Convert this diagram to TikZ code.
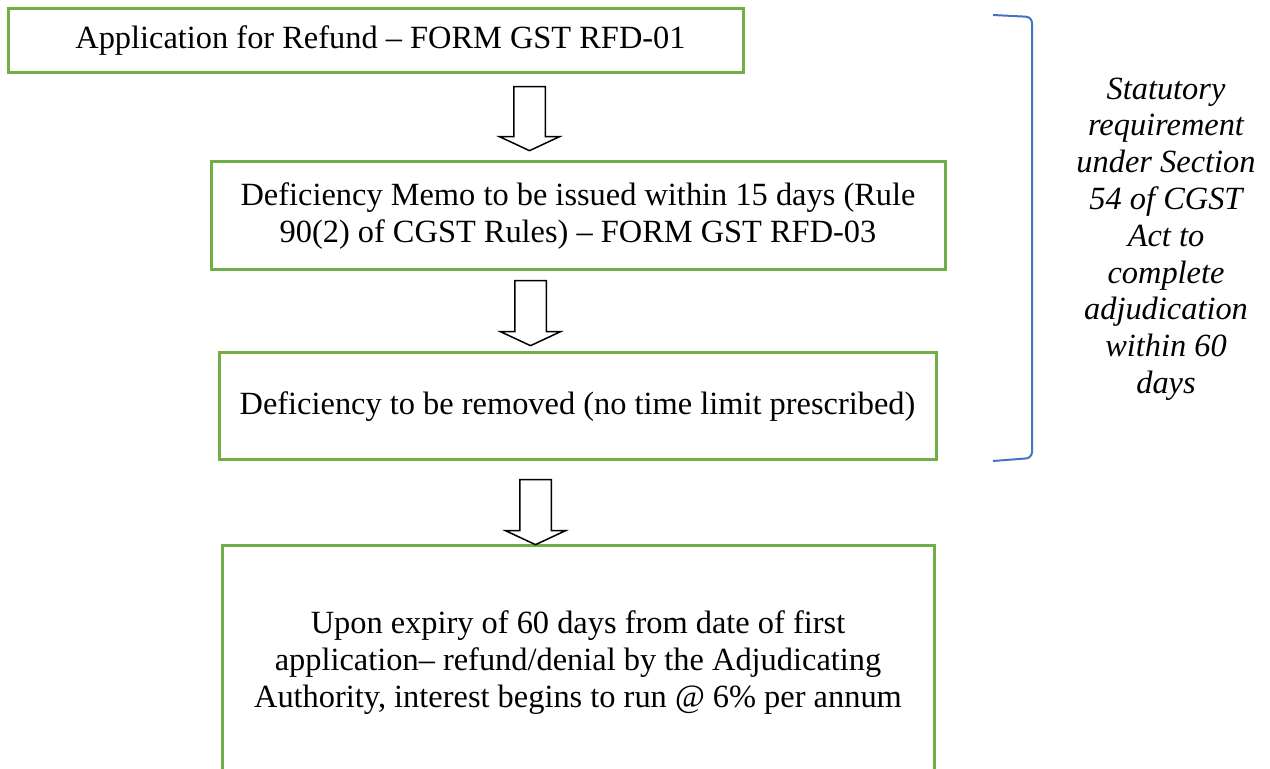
\documentclass[tikz,border=0pt]{standalone}
\usepackage{fontspec}
\setmainfont{Liberation Serif}
\usetikzlibrary{shapes.arrows}
\definecolor{boxgreen}{HTML}{70AD47}
\definecolor{braceblue}{HTML}{4472C4}
\begin{document}
\begin{tikzpicture}[x=0.5pt, y=-0.5pt]
  \useasboundingbox (0, 0) rectangle (1270, 769);
  \clip (0, 0) rectangle (1270, 769);  % unterer Kasten ragt heraus
  \tikzstyle{box}=[draw=boxgreen, line width=1.5pt, fill=white, inner sep=0pt, align=center,
    font=\fontsize{16.2}{18.5}\selectfont]
  \tikzstyle{down}=[draw, single arrow, rotate=-90, line width=0.75pt, inner xsep=0pt,
    inner ysep=7.5pt, single arrow head extend=7.25pt, single arrow tip angle=130]

  \node[box, minimum width=367.5pt, minimum height=32pt] (app) at (375.5, 41)
    {\hspace*{5pt}Application for Refund -- FORM GST RFD-01};
  \node[box, minimum width=367pt, minimum height=54pt] (memo) at (578, 216)
    {Deficiency Memo to be issued within 15 days (Rule\\90(2) of CGST Rules) -- FORM GST RFD-03};
  \node[box, minimum width=358.5pt, minimum height=53.5pt] (removed) at (577.5, 406.5)
    {Deficiency to be removed (no time limit prescribed)};
  \node[box, minimum width=356pt, minimum height=117pt] (expiry) at (578, 663)
    {Upon expiry of 60 days from date of first\\application-- refund/denial by the Adjudicating\\
     Authority, interest begins to run @ 6\% per annum};

  \node[down, minimum height=32pt] (a1) at (529.5, 115) {};
  \node[down, minimum height=32.5pt] (a2) at (530.5, 309.5) {};
  \node[down, minimum height=32.5pt] (a3) at (535.5, 508.5) {};

  % Klammer fuer die 60 Tage
  \coordinate (bt) at (993, 15);
  \coordinate (bb) at (993, 461);
  \draw[braceblue, line width=1pt, rounded corners=3pt]
    (bt) -- (1032, 17) -- (1032, 458) -- (bb);
  \node[align=center, font=\fontsize{16.2}{18.4}\selectfont\itshape] (note) at (1166, 239)
    {Statutory\\requirement\\under Section\\54 of CGST\\Act to\\complete\\adjudication\\within 60\\days};
\end{tikzpicture}
\end{document}
